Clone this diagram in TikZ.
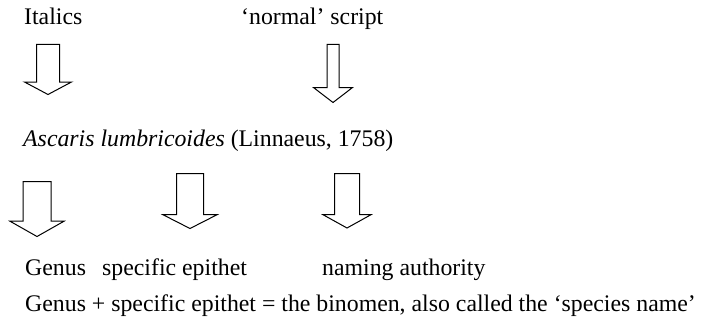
\documentclass[tikz,border=0pt]{standalone}
\usepackage{fontspec}
\setmainfont{Liberation Serif}
\usepackage{tikz}
\usetikzlibrary{shapes.arrows}

\begin{document}
\begin{tikzpicture}[x=1pt,y=-1pt]
\tikzset{txt/.style = {anchor=base west, inner sep=0pt, font=\fontsize{23.8}{28}\selectfont}}
\tikzset{bigarrow/.style n args = {4}{single arrow, draw, line width=1pt, rotate=-90, anchor=tail, inner xsep=0pt, inner ysep=#1, single arrow head extend=#2, single arrow tip angle=#3, minimum height=#4, minimum width=0pt}}

\useasboundingbox (0,0) rectangle (701,321);

\node[txt] (it) at (24,25) {Italics};
\node[txt] (nm) at (241,25) {‘normal’ script};

\node[bigarrow={11pt}{12pt}{124}{50pt}] (ait) at (48,44) {};
\node[bigarrow={5.5pt}{13.5pt}{105}{58pt}] (anm) at (333,44) {};

\node[txt] (sp) at (23,146) {\textit{Ascaris lumbricoides} (Linnaeus, 1758)};

\node[bigarrow={13.5pt}{13pt}{121}{55pt}] (agn) at (37,181) {};
\node[bigarrow={13pt}{13.5pt}{126}{55pt}] (aep) at (190,173) {};
\node[bigarrow={12pt}{11.5pt}{122}{54.5pt}] (aau) at (347,173) {};

\node[txt] (gn) at (25,275) {Genus};
\node[txt] (ep) at (102,275) {specific epithet};
\node[txt] (au) at (322,275) {naming authority};

\node[txt] (bn) at (25,311) {Genus + specific epithet = the binomen, also called the ‘species name’};

\end{tikzpicture}
\end{document}
